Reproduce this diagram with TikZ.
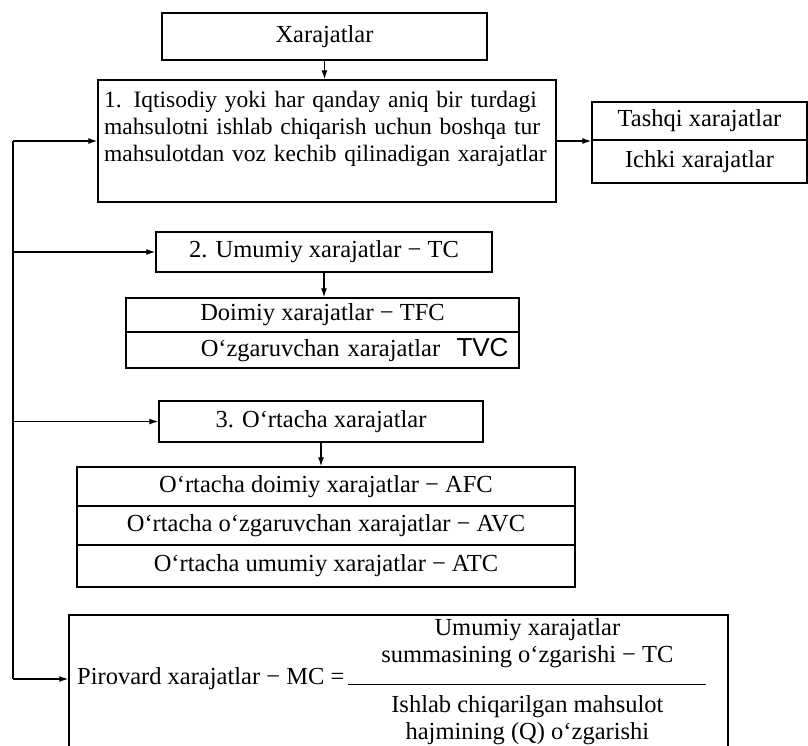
\documentclass[tikz,border=0pt]{standalone}
\usepackage{fontspec}
\setmainfont{Liberation Serif}
\newfontfamily\tvcfont{Liberation Sans}
\usepackage{array}
\usepackage{tikz}
\usetikzlibrary{arrows.meta}
\setlength{\arrayrulewidth}{1.2pt}

\begin{document}
\begin{tikzpicture}[x=1pt,y=-1pt]
\tikzset{box/.style={draw,line width=1.4pt,inner sep=0pt,font=\fontsize{24.5}{27}\selectfont}}
\tikzset{txt/.style={inner sep=0pt,font=\fontsize{24.5}{27}\selectfont}}
\clip (0,0) rectangle (808,745);

\node (xar) at (324.5,36.5) [box,minimum width=325,minimum height=47] {Xarajatlar};
\node (b1) at (327,141) [box,minimum width=458,minimum height=122] {};
\node (b1t) at (104,91) [txt,anchor=north west,text width=448pt,font=\fontsize{23.5}{27}\selectfont] {\makebox[448pt][s]{1. Iqtisodiy yoki har qanday aniq bir turdagi}\\\makebox[448pt][s]{mahsulotni ishlab chiqarish uchun boshqa tur}\\\makebox[448pt][s]{mahsulotdan voz kechib qilinadigan xarajatlar}};
\node (tash) at (699.5,121) [box,minimum width=215,minimum height=38] {Tashqi xarajatlar};
\node (ichki) at (699.5,161.5) [box,minimum width=215,minimum height=43] {Ichki xarajatlar};

\node (b2) at (324,252) [box,minimum width=336,minimum height=40] {2. Umumiy xarajatlar − TC};
\node (doim) at (322.5,315) [box,minimum width=393,minimum height=34] {Doimiy xarajatlar − TFC};
\node (ozg) at (322.5,350) [box,minimum width=393,minimum height=36,text width=372pt,align=right] {O‘zgaruvchan xarajatlar\ \ {\tvcfont\fontsize{26}{27}\selectfont TVC}};

\node (b3) at (321,421.5) [box,minimum width=324,minimum height=41] {3. O‘rtacha xarajatlar};
\node (afc) at (326,486.5) [box,minimum width=498,minimum height=39] {O‘rtacha doimiy xarajatlar − AFC};
\node (avc) at (326,525.5) [box,minimum width=498,minimum height=39] {O‘rtacha o‘zgaruvchan xarajatlar − AVC};
\node (atc) at (326,566) [box,minimum width=498,minimum height=42] {O‘rtacha umumiy xarajatlar − ATC};

\node (pir) at (398.5,692.5) [box,minimum width=659,minimum height=155] {};
\node (pirt) at (77,682) [txt,anchor=west] {Pirovard xarajatlar − MC =\,\raisebox{-4pt}{\begin{tabular}{@{}>{\centering\arraybackslash}p{358pt}@{}}
Umumiy xarajatlar\\
summasining o‘zgarishi − TC\\[13pt]
\hline
\rule{0pt}{27pt}Ishlab chiqarilgan mahsulot\\
hajmining (Q) o‘zgarishi
\end{tabular}}};

\coordinate (c1) at (13,141);
\coordinate (c4) at (13,679);

\path[draw,line width=1.3pt,>={Latex[length=9pt,width=6pt]}]
(xar.south) edge [->] (xar.south |- b1.north)
(b1.east) edge [->] (b1.east -| tash.west)
(b2.south) edge [->] (b2.south |- doim.north)
(b3.south) edge [->] (b3.south |- afc.north)
(c1) edge [-] (c4)
(c1) edge [->] (c1 -| b1.west)
(b2.west -| c1) edge [->] (b2.west)
(b3.west -| c1) edge [->] (b3.west)
(c4) edge [->] (c4 -| pir.west);
\end{tikzpicture}
\end{document}
